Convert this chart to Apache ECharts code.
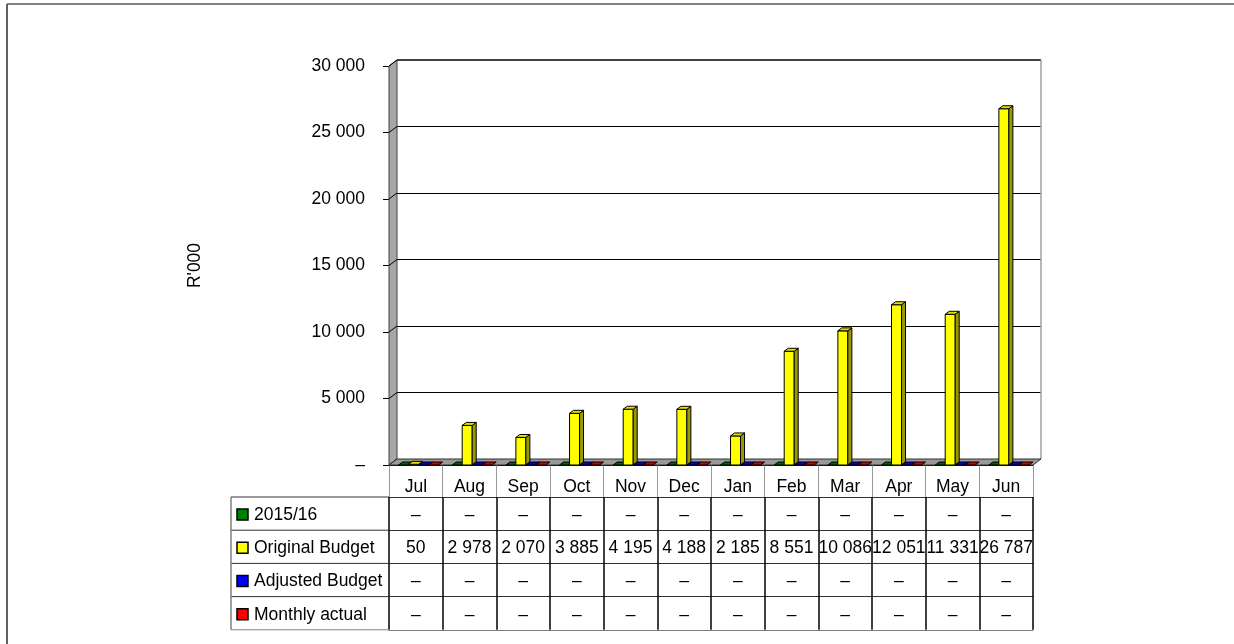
<!DOCTYPE html>
<html><head><meta charset="utf-8">
<script src="https://cdn.jsdelivr.net/npm/echarts@6/dist/echarts.min.js"></script>
<style>html,body{margin:0;padding:0;background:#fff}#c{width:1234px;height:644px}</style>
</head><body><div id="c"></div>
<script>
// ---- data ----
const months = ['Jul','Aug','Sep','Oct','Nov','Dec','Jan','Feb','Mar','Apr','May','Jun'];
const seriesNames = ['2015/16','Original Budget','Adjusted Budget','Monthly actual'];
const prior2015 = [0,0,0,0,0,0,0,0,0,0,0,0];
const originalBudget = [50,2978,2070,3885,4195,4188,2185,8551,10086,12051,11331,26787];
const adjustedBudget = [0,0,0,0,0,0,0,0,0,0,0,0];
const monthlyActual = [0,0,0,0,0,0,0,0,0,0,0,0];
const yTickValues = [0,5000,10000,15000,20000,25000,30000];
const yAxisTitle = "R'000";

// ---- style ----
const FONT = '"Liberation Sans Narrow","Arial Narrow","Liberation Sans",Arial,sans-serif';
const FS = 17.5;
const allSeries = [prior2015, originalBudget, adjustedBudget, monthlyActual];
const COLORS = [
  {key:'#008000', front:'#008000', side:'#004000', top:'#006400'},
  {key:'#FFFF00', front:'#FFFF00', side:'#999900', top:'#DEDE00'},
  {key:'#0000FF', front:'#0000FF', side:'#000080', top:'#0000D0'},
  {key:'#FF0000', front:'#FF0000', side:'#800000', top:'#D00000'}
];
const OFFS = [-12.3, -2.3, 7.7, 17.7];
const BW = 10, DX = 4, DY = -3;
const FRONT = {l:389, t:66, w:644, h:399};
const WALL = {dx:8, dy:-6};
const ROW_H = 33.2;
const HEADER_H = 32;

function fmt(v){
  if (!v) return '–';
  return String(v).replace(/\B(?=(\d{3})+(?!\d))/g, ' ');
}

function makeRender(si){
  return function(params, api){
    const idx = api.value(0), v = api.value(1);
    const top = api.coord([idx, v]);
    const bot = api.coord([idx, 0]);
    const cx = bot[0] + OFFS[si];
    const x0 = cx - BW/2, x1 = cx + BW/2;
    const yb = bot[1], yt = top[1];
    const c = COLORS[si];
    const st = {stroke:'#000', lineWidth:1};
    const children = [];
    if (yb - yt >= 1) {
      children.push({type:'rect', shape:{x:x0, y:yt, width:BW, height:yb-yt}, style:Object.assign({fill:c.front}, st)});
      children.push({type:'polygon', shape:{points:[[x1,yt],[x1+DX,yt+DY],[x1+DX,yb+DY],[x1,yb]]}, style:Object.assign({fill:c.side}, st)});
    }
    children.push({type:'polygon', shape:{points:[[x0,yt],[x1,yt],[x1+DX,yt+DY],[x0+DX,yt+DY]]}, style:Object.assign({fill:c.top}, st)});
    return {type:'group', children};
  };
}

const tableRows = allSeries.map(arr => arr.map(fmt));

const xAxes = [
  { // header row with month names
    type:'category', data:months, gridIndex:0, position:'bottom', offset:0,
    axisLine:{show:true, lineStyle:{color:'#000', width:1}},
    axisTick:{show:true, interval:0, length:HEADER_H, lineStyle:{color:'#999'}},
    axisLabel:{interval:0, margin:22, verticalAlign:'middle', fontFamily:FONT, fontSize:FS, color:'#000'},
    splitLine:{show:false}
  }
];
tableRows.forEach((row, k) => {
  xAxes.push({
    type:'category', data:months, gridIndex:0, position:'bottom',
    offset: HEADER_H + ROW_H*k,
    axisLine:{show:true, lineStyle:{color:'#333', width:1}},
    axisTick:{show:true, interval:0, length:ROW_H, lineStyle:{color:'#000', width:1.5}},
    axisLabel:{interval:0, hideOverlap:false, margin:ROW_H/2 + 1.5, verticalAlign:'middle', fontFamily:FONT, fontSize:FS, color:'#000',
      formatter:(val, i) => row[i]},
    splitLine:{show:false}
  });
});
xAxes.push({
  type:'category', data:months, gridIndex:0, position:'bottom',
  offset: HEADER_H + ROW_H*4,
  axisLine:{show:true, lineStyle:{color:'#808080', width:1}},
  axisTick:{show:false}, axisLabel:{show:false}, splitLine:{show:false}
});
xAxes.push({type:'category', data:months, gridIndex:1, show:false});

const chart = echarts.init(document.getElementById('c'), null, {renderer:'canvas'});
chart.setOption({
  animation:false,
  backgroundColor:'#fff',
  grid:[
    {left:FRONT.l, top:FRONT.t, width:FRONT.w, height:FRONT.h, outerBoundsMode:'none', containLabel:false},
    {left:FRONT.l+WALL.dx, top:FRONT.t+WALL.dy, width:FRONT.w, height:FRONT.h, outerBoundsMode:'none', containLabel:false}
  ],
  xAxis: xAxes,
  yAxis:[
    {type:'value', gridIndex:0, min:0, max:30000, interval:5000,
     axisLine:{show:true, lineStyle:{color:'#000'}},
     axisTick:{show:true, length:6, lineStyle:{color:'#000'}},
     splitLine:{show:false},
     axisLabel:{margin:24, fontFamily:FONT, fontSize:FS, color:'#000', formatter:v => fmt(v)},
     name:yAxisTitle, nameLocation:'middle', nameGap:185, nameRotate:90,
     nameTextStyle:{fontFamily:FONT, fontSize:FS, color:'#000'}
    },
    {type:'value', gridIndex:1, min:0, max:30000, interval:5000,
     axisLine:{show:false}, axisTick:{show:false}, axisLabel:{show:false},
     splitLine:{show:true, lineStyle:{color:'#000', width:1}}
    }
  ],
  series: allSeries.map((arr, si) => ({
    type:'custom', name:seriesNames[si], xAxisIndex:0, yAxisIndex:0, z:5, clip:false,
    renderItem: makeRender(si),
    encode:{x:0, y:1},
    data: arr.map((v, i) => [i, v])
  }))
});

// ---- walls, floor, table label column ----
const yPix = v => chart.convertToPixel({yAxisIndex:0}, v);
const xL = FRONT.l, xR = FRONT.l + FRONT.w;
const y0 = yPix(0), yMax = yPix(30000);
const g = [];
// outer frame
g.push({type:'line', shape:{x1:7, y1:4, x2:1234, y2:4}, style:{stroke:'#808080', lineWidth:2}, z:0});
g.push({type:'line', shape:{x1:7, y1:4, x2:7, y2:644}, style:{stroke:'#606060', lineWidth:2}, z:0});
// back wall top and right edge
g.push({type:'line', shape:{x1:xL+WALL.dx, y1:yMax+WALL.dy, x2:xR+WALL.dx, y2:yMax+WALL.dy}, style:{stroke:'#404040', lineWidth:2}, z:1});
g.push({type:'line', shape:{x1:xR+WALL.dx, y1:yMax+WALL.dy, x2:xR+WALL.dx, y2:y0+WALL.dy}, style:{stroke:'#a0a0a0', lineWidth:1.5}, z:1});
// left wall
g.push({type:'polygon', shape:{points:[[xL,yMax],[xL+WALL.dx,yMax+WALL.dy],[xL+WALL.dx,y0+WALL.dy],[xL,y0]]},
  style:{fill:'#a6a6a6', stroke:'#404040', lineWidth:1}, z:1});
yTickValues.forEach(v => {
  const y = yPix(v);
  g.push({type:'line', shape:{x1:xL, y1:y, x2:xL+WALL.dx, y2:y+WALL.dy}, style:{stroke:'#000', lineWidth:1}, z:1});
});
// floor
g.push({type:'polygon', shape:{points:[[xL,y0],[xL+WALL.dx,y0+WALL.dy],[xR+WALL.dx,y0+WALL.dy],[xR,y0]]},
  style:{fill:'#999999', stroke:'#303030', lineWidth:1}, z:1});
// label column
const tTop = y0 + HEADER_H, labL = 231;
for (let k = 0; k <= 4; k++) {
  const y = tTop + ROW_H*k;
  g.push({type:'line', shape:{x1:labL, y1:y, x2:xL, y2:y}, style:{stroke: k===4 ? '#808080' : '#333', lineWidth:1}, z:2});
}
g.push({type:'line', shape:{x1:labL, y1:tTop, x2:labL, y2:tTop+ROW_H*4}, style:{stroke:'#808080', lineWidth:1.5}, z:2});
seriesNames.forEach((name, k) => {
  const cy = tTop + ROW_H*k + ROW_H/2 + 1.5;
  g.push({type:'rect', shape:{x:237, y:cy-6, width:11, height:11}, style:{fill:COLORS[k].key, stroke:'#000', lineWidth:1.5}, z:3});
  g.push({type:'text', x:254, y:cy, style:{text:name, fontFamily:FONT, fontSize:FS, fill:'#000', verticalAlign:'middle', align:'left'}, z:3});
});
chart.setOption({graphic:{elements:g}});
</script>
</body></html>
